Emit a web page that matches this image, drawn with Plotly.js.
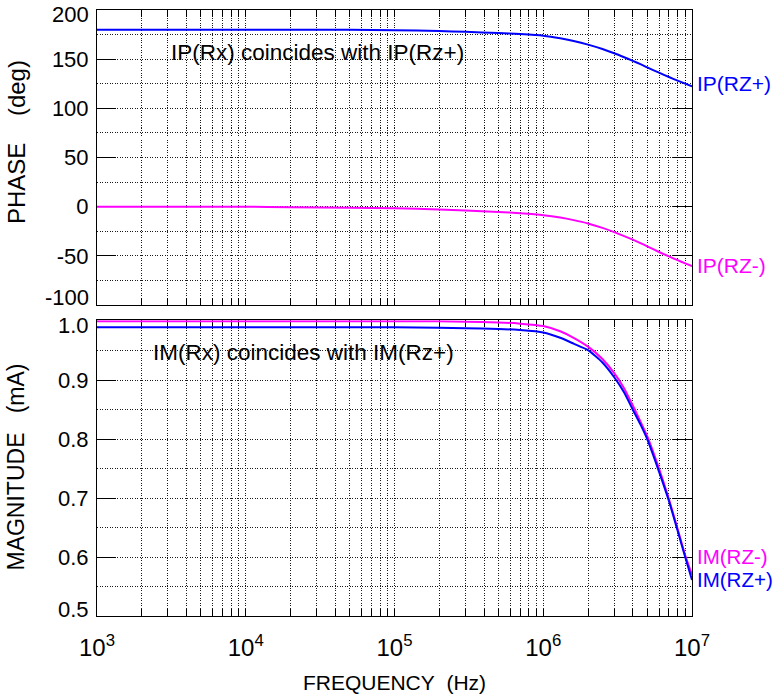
<!DOCTYPE html>
<html>
<head>
<meta charset="utf-8">
<script src="https://cdn.plot.ly/plotly-3.0.1.min.js"></script>
<style>html,body{margin:0;padding:0;background:#fff;}</style>
</head>
<body>
<div id="chart" style="width:781px;height:699px;"></div>
<script>
// ---- data ----
const freq = [1e3, 1e4, 2e4, 5e4, 1e5, 2e5, 3e5, 5e5, 7e5, 1e6, 1.3e6, 1.6e6, 2e6, 2.5e6, 3e6, 3.5e6, 4e6, 4.5e6, 5e6, 6e6, 7e6, 8e6, 9e6, 1e7];
const phaseRzPlus  = [180, 180, 180, 180, 179.5, 178.6, 177.8, 176.6, 175.5, 173.9, 171.3, 168.5, 164.8, 160.3, 156, 152, 148.3, 144.9, 141.6, 136.3, 131.9, 128.2, 125.1, 122.3];
const phaseRzMinus = [0, 0, -0.5, -1, -1.5, -2.8, -3.8, -5.3, -6.7, -8.6, -11, -13.6, -17, -21.5, -25.8, -29.8, -33.5, -36.9, -40.2, -46, -50.5, -54.3, -57.5, -60.4];
const magRzMinus = [1.0, 1.0, 1.0, 1.0, 1.0, 1.0, 0.999, 0.998, 0.996, 0.992, 0.983, 0.972, 0.957, 0.936, 0.912, 0.886, 0.857, 0.83, 0.805, 0.75, 0.698, 0.648, 0.603, 0.57];
const magRzPlus  = [0.99, 0.99, 0.99, 0.99, 0.99, 0.989, 0.988, 0.987, 0.985, 0.981, 0.972, 0.962, 0.951, 0.93, 0.905, 0.879, 0.85, 0.825, 0.80, 0.745, 0.695, 0.645, 0.60, 0.561];

const decadeTicks = [1e3, 1e4, 1e5, 1e6, 1e7];
const decadeText = ['10<sup>3</sup>', '10<sup>4</sup>', '10<sup>5</sup>', '10<sup>6</sup>', '10<sup>7</sup>'];
const phaseTicks = [-100, -50, 0, 50, 100, 150, 200];
const phaseTickText = ['', '-50', '0', '50', '100', '150', ''];
const magTicks = [0.5, 0.6, 0.7, 0.8, 0.9, 1.0];
const magTickText = ['', '0.6', '0.7', '0.8', '0.9', ''];
const phaseTitle = 'PHASE\u00a0\u00a0\u00a0 (deg)';
const magTitle = 'MAGNITUDE\u00a0\u00a0 (mA)';
const freqTitle = 'FREQUENCY\u00a0 (Hz)';

// minor log positions 2..9 per decade (axis configuration)
const minorX = [];
for (let d = 3; d < 7; d++) for (let m = 2; m <= 9; m++) minorX.push(m * Math.pow(10, d));

const BLUE = '#0000ff', MAG = '#ff00ff';
const FONT = 'Liberation Sans, Arial, sans-serif';
const GRID = '#1a1a1a', GDASH = '1px,1.5px';
const TICKFONT = {family: FONT, size: 22, color: '#000'};

const lineStyle = (c) => ({color: c, width: 2, shape: 'spline', smoothing: 0.5});
const traces = [
  {x: freq, y: phaseRzPlus, xaxis: 'x2', yaxis: 'y', mode: 'lines', line: lineStyle(BLUE)},
  {x: freq, y: phaseRzMinus, xaxis: 'x2', yaxis: 'y', mode: 'lines', line: lineStyle(MAG)},
  {x: freq, y: magRzMinus, xaxis: 'x', yaxis: 'y2', mode: 'lines', line: lineStyle(MAG)},
  {x: freq, y: magRzPlus, xaxis: 'x', yaxis: 'y2', mode: 'lines', line: lineStyle(BLUE)}
];

function xAxis(extra) {
  return Object.assign({
    type: 'log', range: [3, 7],
    tickmode: 'array', tickvals: decadeTicks, ticktext: decadeText,
    ticks: 'inside', ticklen: 7, tickwidth: 1, tickcolor: '#000',
    showline: true, linecolor: '#000', linewidth: 1, mirror: 'allticks',
    showgrid: true, gridcolor: GRID, griddash: GDASH, gridwidth: 1,
    minor: {tickmode: 'array', tickvals: minorX, ticks: 'inside', ticklen: 7, tickcolor: '#000',
            showgrid: true, gridcolor: GRID, griddash: GDASH, gridwidth: 1},
    zeroline: false, layer: 'below traces',
    tickfont: {family: FONT, size: 24, color: '#000'}
  }, extra);
}
function yAxis(extra) {
  return Object.assign({
    ticks: 'inside', ticklen: 19, tickwidth: 1, tickcolor: '#000',
    showline: true, linecolor: '#000', linewidth: 1, mirror: 'allticks',
    showgrid: true, gridcolor: GRID, griddash: GDASH, gridwidth: 1,
    zeroline: false, layer: 'below traces',
    ticklabelstandoff: 3, ticklabeloverflow: 'allow',
    tickfont: TICKFONT
  }, extra);
}

function edgeLabel(yref, y, text, yshift) {
  return {xref: 'paper', yref: yref, x: 0, y: y, xshift: -6, yshift: yshift, text: text,
          showarrow: false, xanchor: 'right', yanchor: 'middle', font: TICKFONT};
}

const layout = {
  width: 781, height: 699,
  margin: {l: 97, r: 89, t: 10, b: 83},
  paper_bgcolor: '#fff', plot_bgcolor: '#fff',
  showlegend: false,
  xaxis: xAxis({anchor: 'y2', domain: [0, 1], ticklabelstandoff: 10,
    title: {text: freqTitle, font: {family: FONT, size: 21, color: '#000'}, standoff: 15}}),
  xaxis2: xAxis({anchor: 'y', domain: [0, 1], matches: 'x', showticklabels: false}),
  yaxis: yAxis({domain: [0.513, 1], range: [-100, 200], tickmode: 'array', tickvals: phaseTicks, ticktext: phaseTickText,
    minor: {tickmode: 'linear', dtick: 25, tick0: 0, showgrid: true, gridcolor: GRID, griddash: GDASH, gridwidth: 1, ticks: ''}}),
  yaxis2: yAxis({domain: [0, 0.488], range: [0.5, 1.0017], tickmode: 'array', tickvals: magTicks, ticktext: magTickText,
    minor: {tickmode: 'linear', dtick: 0.05, tick0: 0.5, showgrid: true, gridcolor: GRID, griddash: GDASH, gridwidth: 1, ticks: ''}}),
  annotations: [
    edgeLabel('y', 200, '200', -4),
    edgeLabel('y', -100, '-100', 8),
    edgeLabel('y2', 1.0, '1.0', -4),
    edgeLabel('y2', 0.5, '0.5', 7),
    {xref: 'paper', yref: 'paper', x: 0, y: 0.782, xshift: -81, text: phaseTitle, textangle: -90,
     showarrow: false, xanchor: 'center', yanchor: 'middle', font: {family: FONT, size: 24, color: '#000'}},
    {xref: 'paper', yref: 'paper', x: 0, y: 0.245, xshift: -81, text: magTitle, textangle: -90,
     showarrow: false, xanchor: 'center', yanchor: 'middle', font: {family: FONT, size: 23, color: '#000'}},
    {xref: 'x2', yref: 'y', x: Math.log10(3050), y: 157, text: 'IP(Rx) coincides with IP(Rz+)',
     showarrow: false, xanchor: 'left', yanchor: 'middle', font: {family: FONT, size: 22.5, color: '#000'}},
    {xref: 'x', yref: 'y2', x: Math.log10(2300), y: 0.947, text: 'IM(Rx) coincides with IM(Rz+)',
     showarrow: false, xanchor: 'left', yanchor: 'middle', font: {family: FONT, size: 22.5, color: '#000'}},
    {xref: 'x2', yref: 'y', x: 7, y: phaseRzPlus[phaseRzPlus.length - 1], xshift: 3, yshift: 3, text: 'IP(RZ+)',
     showarrow: false, xanchor: 'left', yanchor: 'middle', font: {family: FONT, size: 21, color: BLUE}},
    {xref: 'x2', yref: 'y', x: 7, y: phaseRzMinus[phaseRzMinus.length - 1], xshift: 3, yshift: 1, text: 'IP(RZ-)',
     showarrow: false, xanchor: 'left', yanchor: 'middle', font: {family: FONT, size: 21, color: MAG}},
    {xref: 'x', yref: 'y2', x: 7, y: magRzMinus[magRzMinus.length - 1], xshift: 3, yshift: 18, text: 'IM(RZ-)',
     showarrow: false, xanchor: 'left', yanchor: 'middle', font: {family: FONT, size: 20.5, color: MAG}},
    {xref: 'x', yref: 'y2', x: 7, y: magRzPlus[magRzPlus.length - 1], xshift: 3, yshift: 1, text: 'IM(RZ+)',
     showarrow: false, xanchor: 'left', yanchor: 'middle', font: {family: FONT, size: 20.5, color: BLUE}}
  ]
};

Plotly.newPlot('chart', traces, layout, {displayModeBar: false, staticPlot: true});
</script>
</body>
</html>
